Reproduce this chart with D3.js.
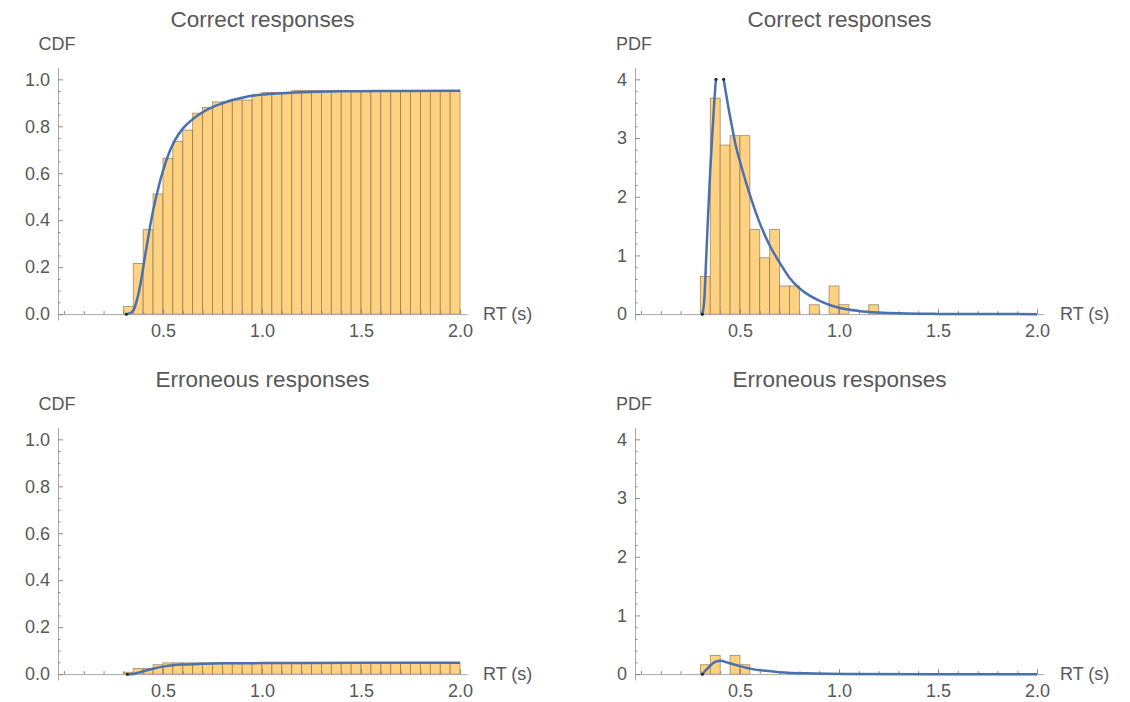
<!DOCTYPE html>
<html><head><meta charset="utf-8">
<script src="https://cdn.jsdelivr.net/npm/d3@7"></script>
<style>
html,body{margin:0;padding:0;background:#fff;}
svg{display:block;font-family:"Liberation Sans",Arial,sans-serif;}
</style></head><body>
<svg id="chart" width="1130" height="702"></svg>
<script>
// ---------- DATA ----------
const binWidth = 0.05;
const binStarts = [0.30,0.35,0.40,0.45,0.50,0.55,0.60,0.65,0.70,0.75,0.80,0.85,0.90,0.95,1.00,1.05,1.10,1.15,
                   1.20,1.25,1.30,1.35,1.40,1.45,1.50,1.55,1.60,1.65,1.70,1.75,1.80,1.85,1.90,1.95];

// cumulative histogram, correct responses
const correctCDFBars = [0.032,0.216,0.360,0.512,0.664,0.736,0.784,0.856,0.880,0.904,0.904,0.912,0.912,0.936,0.944,0.944,0.944,0.952,
                        0.952,0.952,0.952,0.952,0.952,0.952,0.952,0.952,0.952,0.952,0.952,0.952,0.952,0.952,0.952,0.952];
// density histogram, correct responses (bins from 0.30)
const correctPDFBars = [0.64,3.68,2.88,3.04,3.04,1.44,0.96,1.44,0.48,0.48,0,0.16,0,0.48,0.16,0,0,0.16];
// cumulative histogram, erroneous responses
const errorCDFBars = [0.008,0.024,0.024,0.040,0.048,0.048,0.048,0.048,0.048,0.048,0.048,0.048,0.048,0.048,0.048,0.048,0.048,0.048,
                      0.048,0.048,0.048,0.048,0.048,0.048,0.048,0.048,0.048,0.048,0.048,0.048,0.048,0.048,0.048,0.048];
// density histogram, erroneous responses
const errorPDFBars = [0.16,0.32,0,0.32,0.16];

// model curves
const correctCDFCurveX = [0.315,0.33,0.35,0.37,0.39,0.41,0.43,0.45,0.47,0.50,0.53,0.56,0.60,0.65,0.70,0.75,0.80,0.85,0.90,1.00,1.10,1.20,1.40,1.60,2.00];
const correctCDFCurveY = [0,0.003,0.015,0.065,0.145,0.25,0.35,0.44,0.515,0.61,0.685,0.74,0.79,0.83,0.86,0.882,0.898,0.912,0.922,0.935,0.941,0.945,0.949,0.950,0.951];

const correctPDFCurveX = [0.31,0.32,0.33,0.34,0.35,0.36,0.37,0.38,0.39,0.40,0.41,0.42,0.44,0.46,0.48,0.50,0.53,0.56,0.60,0.65,0.70,0.75,0.80,0.85,0.90,0.95,1.00,1.10,1.20,1.30,1.40,1.50,1.75,2.00];
const correctPDFCurveY = [0,0.25,1.0,1.75,2.45,3.05,3.6,4.05,4.3,4.3,4.15,3.95,3.55,3.19,2.85,2.6,2.25,1.93,1.55,1.17,0.88,0.62,0.44,0.32,0.23,0.16,0.11,0.055,0.028,0.014,0.007,0.004,0.001,0];

const errorCDFCurveX = [0.32,0.34,0.36,0.40,0.45,0.50,0.55,0.60,0.70,0.80,1.00,1.50,2.00];
const errorCDFCurveY = [0,0,0.003,0.012,0.023,0.032,0.038,0.041,0.044,0.046,0.047,0.048,0.048];

const errorPDFCurveX = [0.31,0.34,0.375,0.40,0.443,0.495,0.563,0.632,0.70,0.87,1.04,1.50,2.00];
const errorPDFCurveY = [0,0.11,0.21,0.226,0.19,0.14,0.085,0.056,0.034,0.011,0.002,0,0];

// ticks
const xMajorTicks = [0.5,1.0,1.5,2.0];
const xTickLabels = ["0.5","1.0","1.5","2.0"];
const xMinorTicks = [0,0.1,0.2,0.3,0.4,0.6,0.7,0.8,0.9,1.1,1.2,1.3,1.4,1.6,1.7,1.8,1.9];
const cdfMajorTicks = [0,0.2,0.4,0.6,0.8,1.0];
const cdfTickLabels = ["0.0","0.2","0.4","0.6","0.8","1.0"];
const cdfMinorTicks = [0.05,0.1,0.15,0.25,0.3,0.35,0.45,0.5,0.55,0.65,0.7,0.75,0.85,0.9,0.95];
const pdfMajorTicks = [0,1,2,3,4];
const pdfTickLabels = ["0","1","2","3","4"];
const pdfMinorTicks = [0.2,0.4,0.6,0.8,1.2,1.4,1.6,1.8,2.2,2.4,2.6,2.8,3.2,3.4,3.6,3.8];

const titles = ["Correct responses","Correct responses","Erroneous responses","Erroneous responses"];
const yLabels = ["CDF","PDF","CDF","PDF"];
const xLabel = "RT (s)";

// ---------- LAYOUT / STYLE ----------
const svg = d3.select("#chart");
const textColor = "#585858";
const axisColor = "#a8a8a8";
const tickColor = "#8c8c8c";
const barFill = "#ffd281";
const barStroke = "#7d6a48";
const lineColor = "#4a70b0";

const panels = [
  {ox:0,   oy:0,   kind:"cdf", bars:correctCDFBars, cx:correctCDFCurveX, cy:correctCDFCurveY},
  {ox:577, oy:0,   kind:"pdf", bars:correctPDFBars, cx:correctPDFCurveX, cy:correctPDFCurveY},
  {ox:0,   oy:360, kind:"cdf", bars:errorCDFBars,   cx:errorCDFCurveX,   cy:errorCDFCurveY},
  {ox:577, oy:360, kind:"pdf", bars:errorPDFBars,   cx:errorPDFCurveX,   cy:errorPDFCurveY}
];

panels.forEach((p, i) => {
  const g = svg.append("g").attr("transform", `translate(${p.ox},${p.oy})`);
  const x = d3.scaleLinear().domain([-0.03, 2.035]).range([58, 467]);
  const isCDF = p.kind === "cdf";
  const y = d3.scaleLinear().domain(isCDF ? [-0.025, 1.05] : [-0.1, 4.2]).range([320, 67.6]);
  const clipTop = isCDF ? 1.05 : 4.0;

  // bars
  const barData = p.bars.map((v, k) => ({x0: binStarts[k], v})).filter(d => d.v > 0);
  g.append("g").selectAll("rect").data(barData).join("rect")
    .attr("x", d => x(d.x0))
    .attr("width", d => x(d.x0 + binWidth) - x(d.x0))
    .attr("y", d => y(d.v))
    .attr("height", d => y(0) - y(d.v))
    .attr("fill", barFill)
    .attr("stroke", barStroke)
    .attr("stroke-opacity", 0.75)
    .attr("stroke-width", 0.8);

  // x axis (ticks inward)
  const xa = g.append("g").attr("transform", `translate(0,${y(0)})`);
  xa.call(d3.axisBottom(x).tickValues(xMajorTicks).tickFormat((d, k) => xTickLabels[k])
      .tickSizeInner(-5).tickSizeOuter(0).tickPadding(10));
  const xm = g.append("g").attr("transform", `translate(0,${y(0)})`);
  xm.call(d3.axisBottom(x).tickValues(xMinorTicks).tickFormat("").tickSizeInner(-3).tickSizeOuter(0));
  xm.select(".domain").remove();

  // y axis
  const ya = g.append("g").attr("transform", `translate(${x.range()[0]},0)`);
  ya.call(d3.axisLeft(y).tickValues(isCDF ? cdfMajorTicks : pdfMajorTicks)
      .tickFormat((d, k) => (isCDF ? cdfTickLabels : pdfTickLabels)[k])
      .tickSizeInner(-5).tickSizeOuter(0).tickPadding(8));
  const ym = g.append("g").attr("transform", `translate(${x.range()[0]},0)`);
  ym.call(d3.axisLeft(y).tickValues(isCDF ? cdfMinorTicks : pdfMinorTicks).tickFormat("").tickSizeInner(-2.5).tickSizeOuter(0));
  ym.select(".domain").remove();

  [xa, xm, ya, ym].forEach(a => {
    a.selectAll(".domain").attr("stroke", axisColor).attr("stroke-width", 1);
    a.selectAll(".tick line").attr("stroke", tickColor).attr("stroke-width", 1);
    a.selectAll(".tick text").attr("fill", textColor).style("font-size", "18px")
      .style("font-family", '"Liberation Sans",Arial,sans-serif');
  });

  // curve
  const clipId = "clip" + i;
  g.append("clipPath").attr("id", clipId).append("rect")
    .attr("x", x.range()[0]).attr("width", x.range()[1] - x.range()[0] + 5)
    .attr("y", y(clipTop)).attr("height", y(-1) - y(clipTop));
  const pts = p.cx.map((v, k) => [v, p.cy[k]]);
  const line = d3.line().x(d => x(d[0])).y(d => y(d[1])).curve(d3.curveMonotoneX);
  g.append("path").datum(pts).attr("d", line)
    .attr("fill", "none").attr("stroke", lineColor).attr("stroke-width", 2.5)
    .attr("stroke-linejoin", "round").attr("clip-path", `url(#${clipId})`);

  // small dark markers at curve start / clip points
  const marks = [pts[0]];
  for (let k = 1; k < pts.length; k++) {
    const a = pts[k - 1], b = pts[k];
    if ((a[1] - clipTop) * (b[1] - clipTop) < 0) {
      const t = (clipTop - a[1]) / (b[1] - a[1]);
      marks.push([a[0] + t * (b[0] - a[0]), clipTop]);
    }
  }
  g.append("g").selectAll("circle").data(marks).join("circle")
    .attr("cx", d => x(d[0])).attr("cy", d => y(d[1])).attr("r", 1.5).attr("fill", "#222");

  // labels
  g.append("text").attr("x", (x.range()[0] + x.range()[1]) / 2).attr("y", 27)
    .attr("text-anchor", "middle").attr("fill", textColor).style("font-size", "22.5px").text(titles[i]);
  g.append("text").attr("x", x.range()[0] - 1).attr("y", 50)
    .attr("text-anchor", "middle").attr("fill", textColor).style("font-size", "18px").text(yLabels[i]);
  g.append("text").attr("x", x.range()[1] + 16).attr("y", y(0) + 6)
    .attr("text-anchor", "start").attr("fill", textColor).style("font-size", "18px").text(xLabel);
});
</script>
</body></html>
